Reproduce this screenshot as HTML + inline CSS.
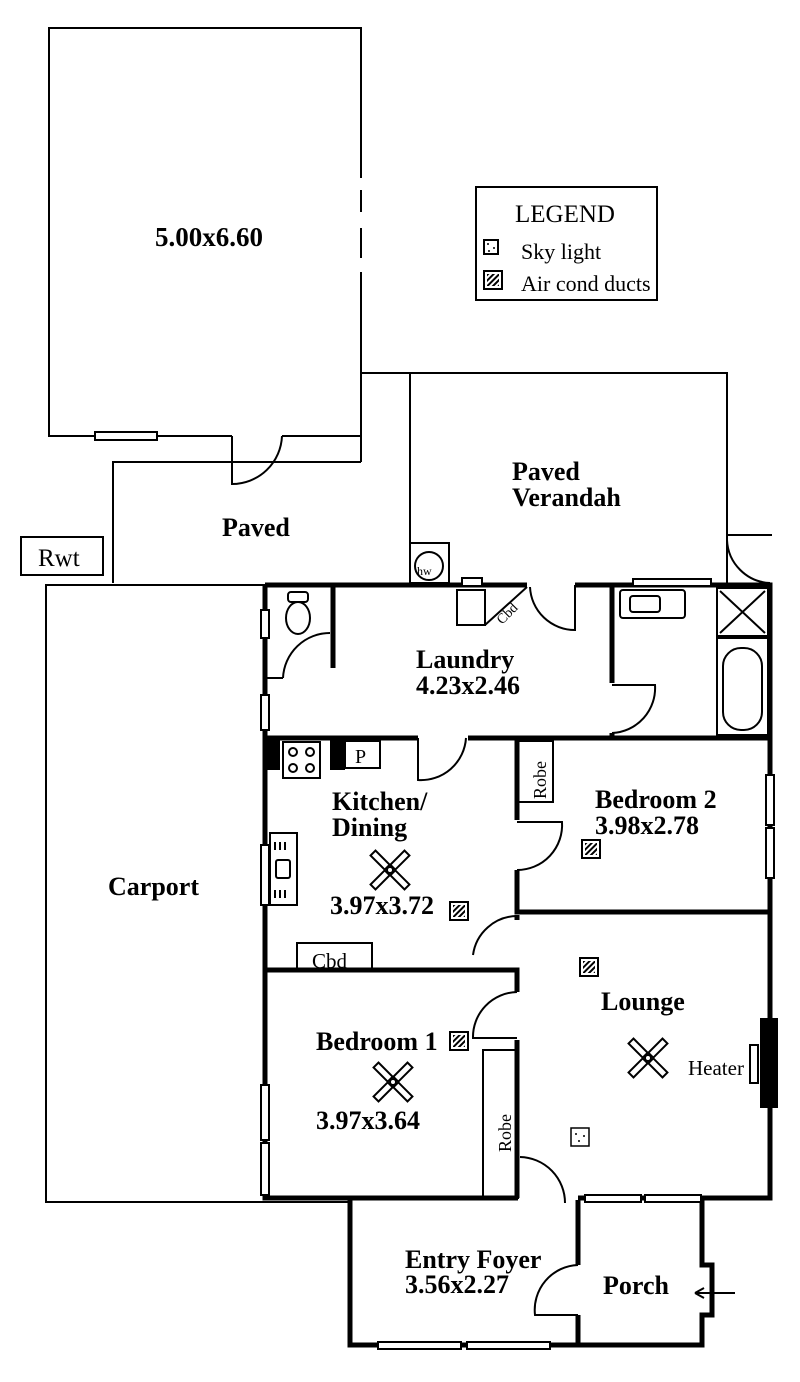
<!DOCTYPE html>
<html><head><meta charset="utf-8"><style>
html,body{margin:0;padding:0;background:#fff}
svg{display:block}
text{font-family:"Liberation Serif",serif;fill:#000}
.b{font-weight:bold;font-size:26px}
</style></head><body>
<svg width="800" height="1382" viewBox="0 0 800 1382" xmlns="http://www.w3.org/2000/svg">
<defs>
<pattern id="h" width="4" height="4" patternUnits="userSpaceOnUse" patternTransform="rotate(45)"><rect width="2" height="4" fill="#000"/></pattern>
<g id="fan" fill="#fff" stroke="#000" stroke-width="2">
<rect x="-3.5" y="-24" width="7" height="20" transform="rotate(45)"/>
<rect x="-3.5" y="-24" width="7" height="20" transform="rotate(135)"/>
<rect x="-3.5" y="-24" width="7" height="20" transform="rotate(225)"/>
<rect x="-3.5" y="-24" width="7" height="20" transform="rotate(315)"/>
<circle r="3" fill="#fff"/>
</g>
<g id="ac"><rect x="0" y="0" width="18" height="18" fill="#fff" stroke="#000" stroke-width="2"/><rect x="3" y="3" width="12" height="12" fill="url(#h)"/></g>
</defs>
<g fill="none" stroke="#000" stroke-width="2">
<path d="M361 436 H282 M232 436 H49 V28 H361 V178 M361 190 V212 M361 228 V258 M361 272 V462"/>
<rect x="95" y="432" width="62" height="8" fill="#fff"/>
<path d="M232 436 V484 A50 50 0 0 0 282 436"/>
<path d="M361 462 H113 V583"/>
<path d="M361 373 H727 V583 M410 373 V583 M727 535 H772 M727 540 A45 45 0 0 0 770 583"/>
<rect x="21" y="537" width="82" height="38"/>
<rect x="410" y="543" width="39" height="40"/>
<circle cx="429" cy="566" r="14"/>
<path d="M265 585 H46 V1202 H350"/>
</g>
<g fill="none" stroke="#000" stroke-width="5">
<path d="M265 585 H527 M575 585 H770 V1198 H578"/>
<path d="M265 585 V1198 H518"/>
<path d="M265 738 H418 M468 738 H770"/>
<path d="M517 738 V820 M517 870 V912 H770"/>
<path d="M265 970 H517 V992 M517 1040 V1198"/>
<path d="M612 585 V683 M612 733 V738"/>
<path d="M333 585 V668"/>
<path d="M350 1200 V1345 H578 V1315 M578 1265 V1200 M578 1345 H702 V1315 H712 V1265 H702 V1200"/>
<path d="M517 915 V920"/>
</g>
<g fill="none" stroke="#000" stroke-width="2">
<path d="M575 585 V630 A45 45 0 0 1 530 587"/>
<path d="M265 678 H283 M283 678 A47 47 0 0 1 330 633"/>
<path d="M612 685 H655 A45 45 0 0 1 612 733"/>
<path d="M418 738 V780 A45 45 0 0 0 466 738"/>
<path d="M517 822 H562 A45 45 0 0 1 517 870"/>
<path d="M473 955 A45 45 0 0 1 517 916"/>
<path d="M517 992 A45 45 0 0 0 473 1038 H517"/>
<path d="M520 1157 A46 46 0 0 1 565 1203"/>
<path d="M578 1315 H535 A45 45 0 0 1 578 1265"/>
<rect x="297" y="943" width="75" height="27"/>
<rect x="270" y="833" width="27" height="72"/>
<rect x="276" y="860" width="14" height="18" rx="2"/>
<path d="M275 842 v8 M280 842 v8 M285 842 v8 M275 890 v8 M280 890 v8 M285 890 v8"/>
<rect x="283" y="742" width="37" height="36"/>
<circle cx="293" cy="752" r="4"/><circle cx="310" cy="752" r="4"/><circle cx="293" cy="768" r="4"/><circle cx="310" cy="768" r="4"/>
<rect x="345" y="741" width="35" height="27"/>
<rect x="517" y="741" width="36" height="61"/>
<rect x="483" y="1050" width="35" height="148"/>
<rect x="457" y="590" width="28" height="35"/>
<rect x="462" y="578" width="20" height="8" fill="#fff"/>
<path d="M485 625 L527 587"/>
<rect x="620" y="590" width="65" height="28" rx="3"/>
<rect x="630" y="596" width="30" height="16" rx="3"/>
<rect x="717" y="588" width="51" height="48"/>
<path d="M720 591 L765 633 M765 591 L720 633"/>
<rect x="717" y="638" width="51" height="97"/>
<rect x="723" y="648" width="39" height="82" rx="18"/>
<path d="M717 585 V738"/>
<ellipse cx="298" cy="618" rx="12" ry="16"/>
<rect x="288" y="592" width="20" height="10" rx="3"/>
<rect x="261" y="610" width="8" height="28" fill="#fff"/>
<rect x="261" y="695" width="8" height="35" fill="#fff"/>
<rect x="261" y="845" width="8" height="60" fill="#fff"/>
<rect x="261" y="1085" width="8" height="55" fill="#fff"/>
<rect x="261" y="1143" width="8" height="52" fill="#fff"/>
<rect x="766" y="775" width="8" height="50" fill="#fff"/>
<rect x="766" y="828" width="8" height="50" fill="#fff"/>
<rect x="633" y="579" width="78" height="7" fill="#fff"/>
<rect x="585" y="1195" width="56" height="7" fill="#fff"/>
<rect x="645" y="1195" width="56" height="7" fill="#fff"/>
<rect x="378" y="1342" width="83" height="7" fill="#fff"/>
<rect x="467" y="1342" width="83" height="7" fill="#fff"/>
<rect x="750" y="1045" width="8" height="38" fill="#fff"/>
<path d="M695 1293 H735 M695 1293 l9 -5 M695 1293 l9 5"/>
<rect x="476" y="187" width="181" height="113"/>
<rect x="484" y="240" width="14" height="14"/>
</g>
<rect x="265" y="740" width="15" height="30"/>
<rect x="330" y="740" width="15" height="30"/>
<rect x="760" y="1018" width="18" height="90"/>
<circle cx="488" cy="244" r="1"/><circle cx="494" cy="248" r="1"/><circle cx="489" cy="251" r="1"/>
<use href="#ac" x="484" y="271"/>
<use href="#ac" x="450" y="902"/>
<use href="#ac" x="582" y="840"/>
<use href="#ac" x="580" y="958"/>
<use href="#ac" x="450" y="1032"/>
<rect x="571" y="1128" width="18" height="18" fill="#fff" stroke="#000" stroke-width="1.5"/>
<circle cx="576" cy="1134" r="1"/><circle cx="584" cy="1136" r="1"/><circle cx="579" cy="1141" r="1"/>
<use href="#fan" x="390" y="870"/>
<use href="#fan" x="393" y="1082"/>
<use href="#fan" x="648" y="1058"/>
<text class="b" x="155" y="246" style="font-size:27px">5.00x6.60</text>
<text class="b" x="222" y="536">Paved</text>
<text class="b" x="512" y="480">Paved</text>
<text class="b" x="512" y="506">Verandah</text>
<text x="38" y="566" font-size="25">Rwt</text>
<text x="417" y="575" font-size="12">hw</text>
<text class="b" x="416" y="668">Laundry</text>
<text class="b" x="416" y="694">4.23x2.46</text>
<text class="b" x="332" y="810">Kitchen/</text>
<text class="b" x="332" y="836">Dining</text>
<text class="b" x="330" y="914">3.97x3.72</text>
<text class="b" x="595" y="808">Bedroom 2</text>
<text class="b" x="595" y="834">3.98x2.78</text>
<text class="b" x="108" y="895">Carport</text>
<text class="b" x="601" y="1010">Lounge</text>
<text x="688" y="1075" font-size="21">Heater</text>
<text class="b" x="316" y="1050">Bedroom 1</text>
<text class="b" x="316" y="1129">3.97x3.64</text>
<text class="b" x="405" y="1268">Entry Foyer</text>
<text class="b" x="405" y="1293">3.56x2.27</text>
<text class="b" x="603" y="1294">Porch</text>
<text x="312" y="968" font-size="21">Cbd</text>
<text x="355" y="763" font-size="20">P</text>
<text x="546" y="799" font-size="18" transform="rotate(-90 546 799)">Robe</text>
<text x="511" y="1152" font-size="18" transform="rotate(-90 511 1152)">Robe</text>
<text x="502" y="625" font-size="14" transform="rotate(-45 502 625)">Cbd</text>
<text x="515" y="222" font-size="25">LEGEND</text>
<text x="521" y="259" font-size="22">Sky light</text>
<text x="521" y="291" font-size="22">Air cond ducts</text>
</svg>
</body></html>
